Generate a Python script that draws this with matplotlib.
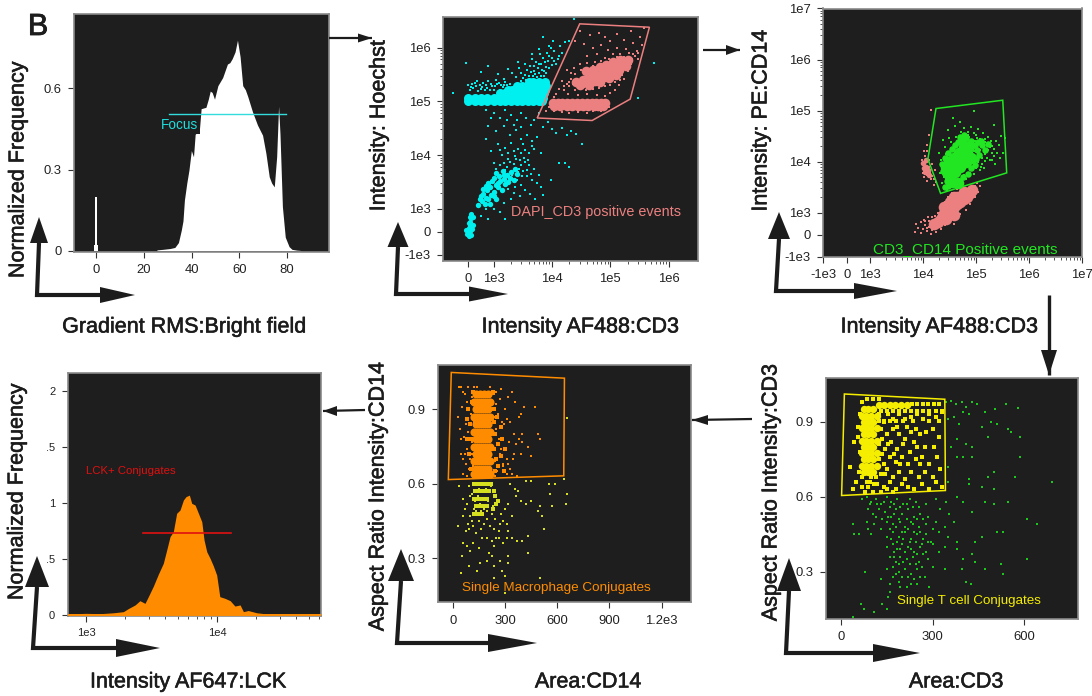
import matplotlib

matplotlib.use("Agg")
from matplotlib import pyplot as plt
from matplotlib import patheffects
from matplotlib.patches import Polygon
from matplotlib.ticker import NullFormatter

plt.rcParams["font.family"] = ["Liberation Sans", "DejaVu Sans"]

PANEL_BG = "#1e1e1e"
SPINE = "#8a8a8a"
TICK = "#333333"
INK = "#1c1c1c"
CYAN = "#00f0f0"
SALMON = "#ec8080"
GREEN = "#22e622"
DARK_GREEN = "#1bc81b"
YELLOW = "#f5ee00"
OLIVE = "#d6e020"
ORANGE = "#ff8c00"
RED = "#e01010"

# gradient rms histogram (top left)
rms_spike_x = [-1.0, -0.4, 0.4, 1.0]
rms_spike_y = [0.02, 0.197, 0.02, 0.0]
rms_x = [25.5, 28, 31, 33, 34.5, 35.7, 36.4, 37, 38, 38.9, 39.9, 40.8, 41.5, 43.3, 44, 46, 47, 47.8, 48.6,
         49.6, 51, 53, 54, 55, 56, 57, 58.2, 59.2, 60.3, 61.4, 62.5, 63.5, 65.5, 67.6, 69.7, 71.1, 72.5,
         73.5, 74.6, 75.6, 76.4, 77, 78, 79.2, 80.8, 82, 84, 85.5, 86]
rms_y = [0.003, 0.005, 0.008, 0.012, 0.03, 0.076, 0.11, 0.187, 0.25, 0.298, 0.37, 0.347, 0.43, 0.45, 0.525,
         0.53, 0.56, 0.59, 0.585, 0.56, 0.61, 0.64, 0.665, 0.69, 0.695, 0.71, 0.735, 0.778, 0.717, 0.61,
         0.595, 0.57, 0.513, 0.464, 0.427, 0.36, 0.273, 0.25, 0.236, 0.347, 0.534, 0.43, 0.163, 0.05,
         0.015, 0.005, 0.002, 0.001, 0.0]
focus_x = [30.6, 79.5]
focus_y = [0.505, 0.505]

# lck histogram (bottom left)
lck_x = [725, 1000, 1280, 1620, 1930, 2100, 2370, 2580, 2820, 2990, 3270, 3570, 3890, 4130, 4380, 4640, 4920,
         5220, 5540, 5800, 6150, 6410, 6800, 7210, 7650, 7960, 8350, 8850, 9380, 9940, 10500, 11500, 12600,
         13700, 15000, 15900, 17300, 20100, 23900, 62500]
lck_y = [0.01, 0.015, 0.012, 0.02, 0.03, 0.057, 0.09, 0.128, 0.104, 0.164, 0.259, 0.366, 0.461, 0.58, 0.70,
         0.744, 0.908, 0.9375, 1.027, 1.057, 1.07, 0.997, 0.982, 0.908, 0.833, 0.67, 0.565, 0.506, 0.4375,
         0.357, 0.164, 0.149, 0.128, 0.08, 0.09, 0.03, 0.04, 0.02, 0.01, 0.003]
lck_gate_x = [2700, 12800]
lck_gate_y = [0.729, 0.729]

# hoechst vs cd3
hoechst_gate = [(5.6e3, 4.9e4), (3e4, 2.76e6), (4.7e5, 2.39e6), (2.2e5, 1.1e5), (4.9e4, 4.4e4)]
cyan_core = [(x, 1.0e5) for x in (0, 250, 500, 750, 1000, 1300, 1600, 2000, 2500, 3100, 3900, 4800, 6000, 6800)] + \
    [(x, 1.17e5) for x in (0, 250, 500, 750, 1000, 1300, 1600, 2000, 2500, 3100, 3900, 4800, 6000, 7100)] + \
    [(x, 1.4e5) for x in (1300, 1600, 2000, 2500, 3100, 3900, 4800, 6000, 7400)] + \
    [(x, 1.65e5) for x in (1800, 2100, 2500, 3100, 3900, 4800, 6000, 7600)] + \
    [(x, 1.95e5) for x in (2500, 3100, 3900, 4800, 6000, 7800)] + \
    [(x, 2.3e5) for x in (4000, 4800, 6000, 7600)]
cyan_mid = [(400, 1200), (550, 1400), (700, 1600), (600, 1900), (800, 1500), (900, 1800), (750, 2200), (500, 1700),
            (850, 2600), (1000, 2100), (700, 2700), (1100, 2800), (1300, 3300), (950, 3300), (1200, 2500),
            (1500, 3600), (1250, 4000), (1700, 4200), (1450, 5000), (2000, 4800), (2300, 5600), (1800, 3100),
            (1400, 2200), (1100, 1500), (650, 1250), (450, 1500), (850, 1250), (1000, 1700), (600, 2300), (800, 3000),
            (1000, 3800), (1200, 3000), (1600, 2900), (1900, 3800), (2200, 3500), (2500, 4400), (1500, 4300), (1100, 4700)]
cyan_low = [(0, 0), (-60, -100), (50, 50), (100, -120), (30, 150), (80, 300), (60, 450), (120, 600), (100, 780),
            (20, -200), (-80, 60), (130, 120), (180, 300), (40, 380), (170, 640), (70, 650)]
cyan_stray = [(1200, 3.2e5), (1500, 2.6e5), (1800, 4e5), (2100, 3.4e5), (2400, 2.8e5), (2700, 4.2e5), (3000, 3.3e5),
              (3400, 5e5), (3800, 3.8e5), (4200, 4.6e5), (4600, 6.2e5), (5000, 3.7e5), (5400, 5.4e5), (5800, 4.2e5),
              (6200, 7.5e5), (6600, 5e5), (7000, 6.4e5), (7400, 3.6e5), (7800, 4.4e5), (8200, 8e5), (8600, 5.6e5),
              (9000, 4.2e5), (9500, 1e6), (10000, 6.5e5), (11000, 8.5e5), (12000, 5e5), (13000, 7e5), (14000, 1.05e6),
              (15000, 8e5), (17000, 1.25e6), (7000, 1.55e6), (20000, 1.35e6), (9000, 1.05e6), (10500, 1.3e6),
              (6000, 9.5e5), (4500, 7.5e5), (2600, 5.5e5), (800, 4.5e5), (500, 3.5e5), (-100, 5.2e5), (-600, 1.45e5),
              (24000, 3.4e6), (5.7e5, 5.1e5), (3e5, 1.15e5),
              (3200, 2.7e5), (3500, 3.1e5), (4000, 3e5), (4400, 3.5e5), (4800, 2.9e5), (5200, 3.2e5), (5600, 2.8e5),
              (6000, 3.4e5), (6400, 3e5), (6800, 3.8e5), (7200, 2.9e5), (5000, 4.5e5), (6000, 5e5), (7500, 5.5e5),
              (8000, 3.4e5), (8800, 7e5), (10000, 4.8e5), (11000, 5.6e5), (12500, 6.2e5), (3000, 2.4e5), (3600, 2.5e5),
              (0, 2e5), (150, 2.1e5), (300, 1.9e5), (450, 2.05e5), (600, 2.2e5), (750, 1.8e5), (900, 2.1e5),
              (1050, 1.9e5), (1250, 2.2e5), (1450, 1.85e5), (200, 1.75e5), (500, 1.7e5), (800, 2.4e5), (1100, 2.5e5),
              (350, 2.35e5), (1000, 1.6e5), (1600, 2.3e5), (1300, 1.65e5), (50, 1.6e5), (100, 1.85e5), (250, 2.2e5),
              (400, 1.55e5), (550, 1.85e5), (700, 2e5), (850, 1.65e5), (950, 1.95e5), (1150, 2.1e5), (1350, 2e5),
              (650, 1.6e5), (1500, 2.05e5), (1700, 2e5), (1900, 2.1e5),
              (700, 7e4), (1000, 6e4), (1300, 5e4), (1600, 7e4), (2000, 5.5e4), (2500, 4.4e4), (3000, 6e4), (3600, 5e4),
              (4300, 3.6e4), (5000, 4.5e4), (6000, 6e4), (7000, 3.4e4), (8500, 4.2e4), (10000, 3e4), (12000, 2.6e4),
              (15000, 3.2e4), (18000, 2.4e4), (21000, 2.8e4), (26000, 2.5e4), (33000, 1.6e4), (800, 3.5e4), (1100, 2.8e4),
              (1500, 3.5e4), (1900, 2.4e4), (2400, 2.9e4), (3000, 2e4), (3700, 2.4e4), (4500, 1.8e4), (5500, 2.2e4),
              (700, 2e4), (1200, 1.6e4), (1600, 1.35e4), (2000, 1.7e4), (2600, 1.3e4), (3200, 1.6e4), (4000, 1.1e4),
              (5000, 1.3e4), (6500, 1.1e4), (1400, 1e4), (1800, 8500), (2300, 9500), (2800, 8000), (3400, 7500),
              (1000, 7000), (1300, 6500), (1700, 6000), (2200, 6800), (2700, 5500), (3200, 5000), (4000, 6500),
              (3700, 4000), (4500, 3500), (5500, 3000), (6500, 2600), (2500, 3500), (3000, 2800), (3400, 2200),
              (2200, 2000), (2800, 1700), (4200, 1900), (5200, 1500), (7000, 1800), (9500, 3500), (13000, 7000),
              (17000, 7000), (20000, 6000), (700, 1000), (1000, 1000), (1300, 850), (1600, 550), (800, 550), (500, 700),
              (1500, 7200), (1900, 7600), (2400, 8300), (2900, 6500), (3300, 9000), (3900, 8000), (1100, 5500), (1600, 5300),
              (2100, 4200), (2600, 4800), (3100, 4000), (1800, 2300), (2000, 1500), (1500, 1300), (2300, 2600), (3800, 5300),
              (4400, 4500), (5000, 5600), (6000, 4200), (900, 1.2e4), (1300, 1.25e4), (1800, 1.1e4), (2200, 1.2e4),
              (2900, 1.1e4), (3500, 1.25e4), (4500, 1.45e4), (900, 5e4), (1700, 4.4e4), (2200, 3.7e4), (2900, 3.3e4)]
salmon_core = [(x, 9.4e4) for x in (1.05e4, 1.25e4, 1.5e4, 1.8e4, 2.2e4, 2.7e4, 3.3e4, 4e4, 4.8e4, 5.8e4, 7e4, 8e4)] + \
    [(x, 8.1e4) for x in (1.1e4, 1.4e4, 1.8e4, 2.2e4, 2.8e4, 3.4e4, 4.2e4, 5.2e4, 6.2e4, 7.4e4)] + \
    [(2.6e4, 2.3e5), (3.4e4, 2.5e5), (4.4e4, 2.8e5), (5.75e4, 3.1e5), (7.5e4, 3.4e5), (9.7e4, 3.8e5), (1.27e5, 4.4e5),
     (1.65e5, 5e5), (3.9e4, 3.6e5), (5e4, 3.8e5), (6.6e4, 4.4e5), (8.5e4, 4.7e5), (1.1e5, 5.5e5), (3e4, 2e5),
     (4.4e4, 2e5), (6.6e4, 2.3e5), (9.7e4, 2.7e5), (1.27e5, 3.1e5), (5.5e4, 2.4e5), (7.7e4, 2.8e5), (1.1e5, 3.4e5),
     (1.4e5, 3.8e5), (1.85e5, 4.6e5), (2e5, 5.8e5), (1.5e5, 5.8e5)]
salmon_stray = [(3e4, 2e6), (4.5e4, 1.7e6), (6.5e4, 1.9e6), (8e4, 1.6e6), (1e5, 1.3e6), (1.3e5, 1.8e6), (1.7e5, 1.4e6),
                (2.3e5, 2e6), (3.2e5, 1.6e6), (3.8e5, 2.3e6), (2.5e5, 1.2e6), (1.9e5, 9.5e5), (1.3e5, 1e6), (9e4, 9e5),
                (7e4, 1.1e6), (5e4, 1e6), (3.5e4, 1.15e6), (2.5e4, 1.3e6), (3e5, 8e5), (3.5e5, 1.1e6), (2.5e5, 7.5e5),
                (3e5, 6e5), (4e4, 7e5), (6e4, 7.5e5), (8e4, 6.5e5), (1.1e5, 7.5e5), (1.5e5, 7.5e5), (2e5, 6.5e5),
                (3e4, 5e5), (2.4e4, 4.2e5), (4e4, 5.2e5), (5.5e4, 5.5e5), (2.1e4, 3.3e5), (1.8e4, 3.8e5), (1.5e4, 2.4e5),
                (1.8e4, 2.1e5), (2.1e4, 2.6e5), (1.3e4, 1.7e5), (1.6e4, 1.6e5), (2e4, 1.9e5), (2.5e4, 1.65e5), (3e4, 1.7e5),
                (3.8e4, 1.6e5), (5e4, 1.7e5), (6.5e4, 1.75e5), (8e4, 1.9e5), (1e5, 2e5), (1.4e5, 2e5), (1.7e5, 2.6e5),
                (1.2e5, 1.65e5), (1.1e4, 1.2e5), (9e3, 8e4), (1.1e4, 6.5e4), (1.5e4, 6.2e4), (2e4, 6e4), (2.8e4, 6.3e4),
                (4e4, 6e4), (5e4, 6.5e4), (7e4, 6.5e4), (8e3, 6.5e4), (1.2e4, 1.35e5), (1.9e4, 1.35e5), (2.8e4, 1.3e5),
                (4e4, 1.35e5), (6e4, 1.3e5), (8e4, 1.25e5), (1e5, 1.4e5), (9.5e4, 8e4), (8.5e4, 1e5),
                (2.3e5, 5e5), (2.7e5, 7e5), (2.4e5, 6e5), (2.9e5, 8.5e5), (2.1e5, 7.8e5), (1.7e5, 6.6e5), (1.3e5, 6.6e5),
                (9.5e4, 6e5), (7e4, 5.6e5), (5e4, 4.6e5), (3.2e4, 3.8e5), (2.5e4, 3.2e5), (2e4, 2.3e5), (1.6e5, 3.1e5),
                (2e5, 3.6e5), (1.5e5, 2.5e5), (1.2e5, 2.3e5), (1.6e4, 1.9e5), (2.3e4, 2.1e5), (3.5e4, 1.85e5), (5e4, 1.9e5)]

# pe cd14 vs cd3
pe_gate = [(1.76e4, 1.1e5), (3.2e5, 1.6e5), (3.8e5, 6.05e3), (2.15e4, 2.4e3), (1.24e4, 1.13e4)]
pe_salmon_core = [(1.6e4, 470), (2.15e4, 730), (2.9e4, 950), (3.85e4, 1320), (5.1e4, 1650), (6.9e4, 2060), (8.5e4, 2770),
                  (2.5e4, 1320), (3.3e4, 1650), (4.45e4, 2060), (5.9e4, 2570), (3.85e4, 880), (2.7e4, 730),
                  (1.9e4, 600), (2.4e4, 900), (3.3e4, 1150), (4.4e4, 1500), (5.9e4, 1900), (7.6e4, 2400), (3.8e4, 2000)]
pe_salmon_stray = [(7e3, 100), (8e3, 300), (9e3, 80), (1e4, 250), (1.1e4, 450), (1.2e4, 150), (1.3e4, 350), (1.4e4, 50),
                   (1.5e4, 200), (7.5e3, 500), (9e3, 560), (1.05e4, 680), (1.25e4, 800), (1.8e4, 120), (2.2e4, 280),
                   (2.6e4, 430), (1.9e4, 1000), (2.1e4, 1250), (2.6e4, 1650), (3e4, 2000), (3.6e4, 2400), (4.4e4, 2900),
                   (7.6e4, 1500), (9.5e4, 2000), (1.1e5, 2600), (1.2e5, 3300), (9.5e4, 3400), (1.05e5, 3800), (6.5e4, 1150),
                   (5e4, 950), (3.8e4, 500),
                   (9.5e3, 1.1e4), (1e4, 9e3), (1.1e4, 1.3e4), (1.15e4, 7000), (1e4, 6000), (1.2e4, 5500), (1.3e4, 8000),
                   (1.35e4, 6000), (1.05e4, 1.6e4), (1.2e4, 2.1e4), (1.3e4, 3.3e4), (1.2e4, 1.6e4), (1.4e4, 4500),
                   (1.6e4, 3500), (1.5e4, 5200), (1.7e4, 7000), (1.2e4, 4200), (1.4e4, 1.05e5), (1.45e4, 9000),
                   (1.1e4, 8000), (1.3e4, 1.1e4), (1.05e4, 5000), (1.6e4, 4600), (1.8e4, 4000),
                   (1.2e4, 300), (1.4e4, 500), (1.6e4, 350), (1.1e4, 620), (1.3e4, 620), (1.5e4, 800), (1.7e4, 850)]
pe_salmon_blob = [(1e4, 9500), (1.15e4, 8000), (1.1e4, 6400), (1.25e4, 7000), (1.05e4, 7500), (1.15e4, 1.1e4), (1.3e4, 5500)]
pe_green_core = [(2.9e4, 6.2e3), (3.6e4, 7.8e3), (4.45e4, 9.7e3), (5.5e4, 1.2e4), (6.9e4, 1.5e4), (3.1e4, 9.7e3), (3.85e4, 1.2e4),
                 (4.8e4, 1.5e4), (5.9e4, 1.9e4), (3.3e4, 5e3), (4.1e4, 6.2e3), (5.1e4, 7.8e3), (6.4e4, 9.7e3), (7.9e4, 1.2e4),
                 (3.6e4, 4e3), (2.7e4, 7.8e3), (7.4e4, 2e4), (4.5e4, 3.8e3)]
pe_green_mid = [(2.4e4, 6.5e3), (2.3e4, 9e3), (2.6e4, 1.2e4), (3e4, 1.45e4), (3.5e4, 1.75e4), (4e4, 2.1e4), (4.6e4, 2.4e4),
                (5.5e4, 2.7e4), (6.5e4, 2.9e4), (8e4, 2.6e4), (9.5e4, 2.1e4), (1.05e5, 1.7e4), (1.15e5, 1.35e4), (1e5, 1.15e4),
                (9.5e4, 8.5e3), (8e4, 7.5e3), (7e4, 5.8e3), (5.7e4, 5e3), (2.8e4, 4.2e3), (2.6e4, 3.2e3), (3e4, 3.3e3),
                (1.3e5, 2.1e4), (1.5e5, 1.7e4), (1.25e5, 2.6e4), (1.1e5, 2.4e4), (6e4, 3.3e4), (5e4, 3e4), (1.7e5, 2.2e4)]
pe_green_stray = [(2e4, 1.5e4), (2.4e4, 2.7e4), (2.6e4, 1.9e4), (2.7e4, 1.4e4), (2.2e4, 1.1e4), (2.4e4, 8e3), (2.1e4, 6e3),
                  (2.5e4, 5e3), (2.3e4, 3.8e3), (2.7e4, 3.3e3), (3e4, 4e3), (3.1e4, 2.9e4), (3.4e4, 2.4e4), (3.5e4, 1.8e4),
                  (3.2e4, 1.5e4), (3e4, 4.1e4), (4e4, 5.1e4), (5e4, 6e4), (3.7e4, 7.3e4), (9e4, 1e5), (6e4, 4.5e4), (5.2e4, 3.8e4),
                  (7e4, 3.8e4), (8e4, 4.7e4), (4.2e4, 3e4), (4.7e4, 2.6e4), (5.5e4, 3e4), (6.5e4, 2.6e4), (7.5e4, 3e4),
                  (8.5e4, 2.4e4), (1e5, 3.3e4), (1.1e5, 4.3e4), (1.2e5, 2.8e4), (1.35e5, 3.6e4), (1.5e5, 2.4e4), (1.7e5, 3e4),
                  (2.2e5, 5.2e4), (2.7e5, 2.1e4), (3e5, 3.2e4), (3.5e5, 2.9e4), (3.3e5, 1.5e4), (2.5e5, 1.5e4), (2e5, 2e4),
                  (1.7e5, 1.7e4), (1.4e5, 2e4), (1.2e5, 1.7e4), (1e5, 1.9e4), (9e4, 1.6e4), (1.1e5, 1.3e4), (1.3e5, 1.2e4),
                  (1.5e5, 1.4e4), (1.8e5, 1.1e4), (2.3e5, 9e3), (1.3e5, 9e3), (1.1e5, 1e4), (9.5e4, 1e4), (1e5, 7.5e3),
                  (1.2e5, 6.8e3), (8.5e4, 7e3), (9e4, 5.7e3), (7.5e4, 5.3e3), (6e4, 5.5e3), (5.5e4, 4.5e3), (4.7e4, 4e3),
                  (6.5e4, 4.6e3), (4e4, 3.5e3), (3.4e4, 3.2e3), (2.9e4, 2.8e3), (8e4, 2.2e4), (6.2e4, 2.4e4), (4.5e4, 2.2e4),
                  (9.5e4, 2.6e4), (2.8e5, 1.2e4), (2.2e5, 1.3e4), (1.65e5, 2.1e4), (1.9e5, 2.6e4), (1.25e5, 2.3e4),
                  (1.4e5, 1.6e4), (1.6e5, 1.2e4), (2e5, 1.5e4), (2.2e5, 1.8e4), (2.4e5, 2.5e4), (2e5, 1.1e4), (1.5e5, 1.05e4),
                  (1.25e5, 7.8e3), (1.4e5, 7.5e3), (7e4, 3.3e4), (9e4, 3.7e4), (1.05e5, 2.9e4), (1.45e5, 2.8e4), (1.8e5, 1.9e4)]

# aspect ratio vs area cd14
macro_gate = [(-8, 1.048), (642, 1.025), (638, 0.632), (-25, 0.617)]
macro_core = [(x, y) for y in (0.96, 0.90, 0.84, 0.78, 0.72, 0.66) for x in (135, 158, 181, 204)] + \
    [(x, y) for y in (0.93, 0.87, 0.81, 0.75, 0.69, 0.64) for x in (125, 147, 170, 193, 216)]
macro_mid = [(90, 0.90), (100, 0.84), (105, 0.78), (95, 0.72), (105, 0.66), (110, 0.93), (115, 0.97), (85, 0.86), (80, 0.78),
             (235, 0.90), (240, 0.85), (245, 0.80), (240, 0.74), (250, 0.70), (245, 0.65), (255, 0.87), (262, 0.76), (260, 0.67),
             (230, 0.97), (275, 0.83), (275, 0.71), (285, 0.78), (300, 0.74), (295, 0.65)]
macro_stray = [(35, 0.99), (45, 0.99), (30, 0.87), (60, 0.97), (70, 0.96), (55, 0.91), (80, 0.93), (90, 0.99), (75, 0.84),
               (65, 0.79), (85, 0.74), (100, 0.70), (95, 0.66), (60, 0.64), (110, 0.95), (105, 0.88), (45, 0.78), (70, 0.72),
               (90, 0.81), (110, 0.77), (240, 0.96), (250, 0.92), (260, 0.88), (275, 0.98), (285, 0.85), (300, 0.90),
               (320, 0.95), (340, 0.97), (360, 0.93), (380, 0.87), (395, 0.88), (400, 0.80), (430, 0.75), (450, 0.71),
               (250, 0.82), (265, 0.78), (280, 0.74), (295, 0.84), (310, 0.70), (330, 0.66), (350, 0.80), (365, 0.76),
               (380, 0.78), (400, 0.77), (245, 0.69), (255, 0.65), (270, 0.72), (290, 0.68), (310, 0.64), (325, 0.77),
               (345, 0.70), (370, 0.63), (390, 0.72), (490, 0.80), (500, 0.78), (410, 0.91), (250, 0.97), (270, 0.94),
               (290, 0.67), (310, 0.86), (120, 0.99), (140, 0.99), (110, 0.72), (115, 0.67), (120, 0.85), (240, 0.74),
               (235, 0.87), (238, 0.80), (112, 0.92), (245, 0.63), (215, 0.99), (230, 0.96), (475, 0.91), (40, 0.82),
               (50, 0.72), (60, 0.70), (75, 0.68), (80, 0.63), (330, 0.85), (350, 0.72), (320, 0.68), (340, 0.64)]
macro_yellow_mid = [(120, 0.60), (140, 0.60), (160, 0.60), (180, 0.60), (200, 0.60), (220, 0.60), (130, 0.57), (150, 0.57),
                    (170, 0.57), (190, 0.57), (210, 0.57), (120, 0.54), (140, 0.54), (160, 0.54), (180, 0.54), (200, 0.54),
                    (135, 0.51), (155, 0.51), (175, 0.51), (195, 0.51), (125, 0.48), (145, 0.48), (170, 0.48), (250, 0.52),
                    (260, 0.53), (230, 0.50), (235, 0.57), (245, 0.55)]
macro_yellow = [(95, 0.59), (110, 0.56), (120, 0.60), (130, 0.57), (140, 0.60), (150, 0.58), (160, 0.60), (170, 0.57), (180, 0.60),
                (190, 0.58), (200, 0.60), (210, 0.57), (220, 0.59), (130, 0.53), (145, 0.55), (155, 0.52), (165, 0.54),
                (175, 0.51), (190, 0.54), (205, 0.53), (230, 0.51), (250, 0.52), (260, 0.53), (120, 0.50), (135, 0.49),
                (150, 0.48), (165, 0.49), (180, 0.50), (200, 0.49), (225, 0.48), (245, 0.46), (100, 0.47), (90, 0.44),
                (70, 0.50), (60, 0.54), (35, 0.59), (30, 0.43), (75, 0.41), (95, 0.42), (115, 0.43), (135, 0.40), (160, 0.42),
                (180, 0.44), (215, 0.43), (240, 0.42), (270, 0.44), (290, 0.45), (310, 0.44), (340, 0.47), (365, 0.55),
                (375, 0.57), (395, 0.53), (420, 0.52), (450, 0.53), (490, 0.49), (500, 0.51), (525, 0.42), (515, 0.47),
                (560, 0.56), (570, 0.51), (590, 0.60), (555, 0.60), (650, 0.52), (655, 0.56), (655, 0.865), (640, 0.62),
                (450, 0.61), (420, 0.61), (360, 0.58), (330, 0.60), (60, 0.36), (80, 0.35), (100, 0.33), (115, 0.36), (150, 0.34),
                (170, 0.38), (200, 0.38), (225, 0.37), (240, 0.35), (265, 0.38), (290, 0.36), (310, 0.38), (340, 0.38),
                (370, 0.37), (400, 0.37), (430, 0.39), (55, 0.31), (95, 0.27), (155, 0.28), (200, 0.29), (225, 0.31), (240, 0.27),
                (270, 0.29), (320, 0.31), (50, 0.24), (140, 0.25), (240, 0.22), (285, 0.25), (300, 0.23), (500, 0.22),
                (300, 0.16), (430, 0.32), (210, 0.32), (320, 0.28), (280, 0.48), (300, 0.50), (320, 0.52), (100, 0.55),
                (85, 0.52), (110, 0.45), (150, 0.45), (200, 0.46), (265, 0.41), (315, 0.41), (250, 0.38), (60, 0.47)]

# aspect ratio vs area cd3
tcell_gate = [(12, 1.011), (340, 0.99), (342, 0.625), (3, 0.605)]
tcell_core = [(x, y) for y in (0.95, 0.90, 0.85, 0.80, 0.75, 0.70) for x in (75, 90, 106)] + \
    [(x, y) for y in (0.925, 0.875, 0.825, 0.775, 0.725) for x in (68, 83, 98, 118)] + \
    [(x, 0.968) for x in (125, 142, 160, 178, 196, 215)]
tcell_band = [(x, 0.972) for x in (232, 250, 268, 286, 304, 322)] + \
    [(x, 0.945) for x in (130, 150, 170, 190, 210, 230, 250, 270, 290, 310, 330)] + \
    [(x, 0.905) for x in (125, 140, 160, 180, 205, 235, 290, 320)]
tcell_mid = [(125, 0.93), (140, 0.90), (155, 0.93), (170, 0.91), (190, 0.93), (210, 0.91), (230, 0.92), (250, 0.93), (270, 0.91),
             (290, 0.93), (310, 0.92), (330, 0.94), (130, 0.87), (150, 0.85), (170, 0.87), (190, 0.85), (210, 0.83), (230, 0.86),
             (245, 0.87), (260, 0.85), (280, 0.86), (300, 0.87), (320, 0.84), (125, 0.81), (145, 0.79), (165, 0.82), (185, 0.79),
             (205, 0.81), (225, 0.78), (250, 0.80), (275, 0.80), (305, 0.80), (125, 0.75), (140, 0.73), (160, 0.76), (180, 0.74),
             (200, 0.76), (220, 0.73), (245, 0.75), (260, 0.73), (290, 0.73), (315, 0.76), (130, 0.69), (150, 0.71), (170, 0.68),
             (190, 0.70), (210, 0.67), (230, 0.70), (255, 0.68), (275, 0.70), (300, 0.68), (325, 0.71), (85, 0.66), (100, 0.68),
             (120, 0.65), (140, 0.64), (160, 0.66), (180, 0.63), (200, 0.65), (220, 0.64), (240, 0.63), (265, 0.65), (290, 0.63),
             (310, 0.66), (330, 0.64), (70, 0.64), (80, 0.62), (105, 0.62), (130, 0.62), (150, 0.63), (172, 0.62), (60, 0.70),
             (62, 0.78), (58, 0.84), (55, 0.88), (62, 0.93), (68, 0.98), (85, 0.99), (105, 0.99), (125, 0.99), (45, 0.82),
             (32, 0.72), (50, 0.66), (40, 0.63), (135, 0.83), (155, 0.81), (175, 0.77), (195, 0.73), (135, 0.77), (145, 0.69),
             (115, 0.68), (90, 0.64), (70, 0.68), (185, 0.88), (215, 0.88), (240, 0.82), (265, 0.76), (95, 0.66), (110, 0.65)]
tcell_green = [(345, 0.98), (360, 0.985), (375, 0.97), (395, 0.98), (410, 0.96), (430, 0.98), (445, 0.97), (420, 0.93), (400, 0.94),
               (370, 0.92), (350, 0.91), (385, 0.89), (470, 0.94), (505, 0.95), (540, 0.97), (580, 0.955), (490, 0.90), (510, 0.89),
               (555, 0.86), (545, 0.87), (460, 0.88), (480, 0.84), (585, 0.84), (585, 0.76), (380, 0.83), (410, 0.81), (430, 0.80),
               (360, 0.80), (380, 0.76), (400, 0.76), (430, 0.76), (350, 0.72), (500, 0.70), (480, 0.68), (570, 0.68), (350, 0.66),
               (420, 0.65), (420, 0.67), (500, 0.63), (460, 0.64), (690, 0.66), (380, 0.60), (400, 0.58), (430, 0.54), (470, 0.58),
               (500, 0.57), (545, 0.58),
               (70, 0.59), (85, 0.60), (100, 0.58), (115, 0.59), (130, 0.57), (150, 0.60), (165, 0.58), (185, 0.59), (205, 0.57),
               (225, 0.59), (245, 0.58), (280, 0.57), (310, 0.59), (345, 0.58), (90, 0.55), (105, 0.53), (125, 0.55), (145, 0.54),
               (165, 0.52), (180, 0.55), (200, 0.53), (220, 0.55), (240, 0.52), (260, 0.53), (285, 0.52), (325, 0.55), (355, 0.53),
               (85, 0.50), (110, 0.49), (150, 0.50), (170, 0.49), (190, 0.51), (210, 0.48), (230, 0.50), (255, 0.48), (280, 0.49),
               (310, 0.50), (340, 0.48), (370, 0.50), (40, 0.49), (45, 0.45), (60, 0.45), (90, 0.47), (100, 0.45), (130, 0.47),
               (150, 0.44), (170, 0.46), (190, 0.44), (210, 0.46), (230, 0.43), (250, 0.45), (270, 0.43), (295, 0.42), (320, 0.46),
               (350, 0.44), (380, 0.42), (440, 0.42), (460, 0.44), (510, 0.46), (530, 0.46), (640, 0.49), (610, 0.51), (150, 0.40),
               (170, 0.41), (185, 0.39), (200, 0.41), (220, 0.40), (240, 0.38), (260, 0.40), (280, 0.38), (300, 0.41), (320, 0.38),
               (340, 0.40), (380, 0.39), (430, 0.37), (160, 0.36), (180, 0.34), (195, 0.36), (215, 0.35), (235, 0.36), (255, 0.34),
               (285, 0.35), (400, 0.35), (440, 0.34), (525, 0.33), (610, 0.35), (150, 0.31), (170, 0.32), (190, 0.30), (210, 0.31),
               (230, 0.29), (250, 0.31), (275, 0.28), (300, 0.32), (340, 0.31), (395, 0.31), (470, 0.31), (530, 0.29), (80, 0.30),
               (130, 0.27), (160, 0.25), (190, 0.26), (215, 0.24), (250, 0.25), (290, 0.24), (410, 0.26), (425, 0.25), (160, 0.22),
               (155, 0.20), (75, 0.15), (65, 0.17), (110, 0.14), (40, 0.12), (150, 0.15), (135, 0.17),
               (95, 0.57), (120, 0.57), (140, 0.58), (160, 0.56), (175, 0.57), (195, 0.56), (215, 0.57), (235, 0.56), (255, 0.56),
               (115, 0.52), (135, 0.51), (155, 0.52), (175, 0.53), (195, 0.50), (215, 0.51), (235, 0.49), (250, 0.51), (270, 0.51),
               (160, 0.47), (180, 0.48), (200, 0.46), (220, 0.47), (240, 0.46), (260, 0.46), (280, 0.45), (300, 0.47),
               (165, 0.43), (185, 0.42), (205, 0.43), (225, 0.42), (245, 0.42), (265, 0.41), (285, 0.42), (175, 0.38), (195, 0.39),
               (210, 0.38), (230, 0.39), (250, 0.37), (270, 0.37), (175, 0.36), (190, 0.33), (205, 0.34), (225, 0.33), (245, 0.33),
               (265, 0.32), (180, 0.29), (200, 0.28), (220, 0.28), (240, 0.27), (260, 0.28), (170, 0.28), (195, 0.24), (230, 0.25)]

# tick labels
x_ticks_rms = [0, 20, 40, 60, 80]
y_ticks_rms = [0, 0.3, 0.6]
y_labels_rms = ["0", "0.3", "0.6"]
bi_x_ticks = [0, 1e3, 1e4, 1e5, 1e6]
bi_x_labels = ["0", "1e3", "1e4", "1e5", "1e6"]
bi_y_ticks = [-1e3, 0, 1e3, 1e4, 1e5, 1e6]
bi_y_labels = ["-1e3", "0", "1e3", "1e4", "1e5", "1e6"]
pe_ticks = [-1e3, 0, 1e3, 1e4, 1e5, 1e6, 1e7]
pe_labels = ["-1e3", "0", "1e3", "1e4", "1e5", "1e6", "1e7"]
lck_x_ticks = [1e3, 1e4]
lck_x_labels = ["1e3", "1e4"]
lck_y_ticks = [0, 0.5, 1, 1.5, 2]
lck_y_labels = ["0", ".5", "1", ".5", "2"]
macro_x_ticks = [0, 300, 600, 900, 1200]
macro_x_labels = ["0", "300", "600", "900", "1.2e3"]
tcell_x_ticks = [0, 300, 600]
ratio_ticks = [0.3, 0.6, 0.9]


def log_minors(first, last):
    return [m * 10 ** d for d in range(first, last) for m in range(2, 10)]


fig = plt.figure(figsize=(10.92, 6.96), dpi=100)


def panel(left, top, right, bottom, xlim, ylim):
    axis = fig.add_axes([left / 1092, 1 - bottom / 696, (right - left) / 1092, (bottom - top) / 696])
    axis.set_facecolor(PANEL_BG)
    for spine in axis.spines.values():
        spine.set_color(SPINE)
        spine.set_linewidth(1.2)
    axis.tick_params(which="major", length=4, width=0.8, color=TICK, labelsize=9.4, labelcolor="#222222", pad=5)
    axis.tick_params(which="minor", length=2.5, width=0.6, color=TICK)
    axis._wanted = (xlim, ylim)
    return axis


def finish(axis):
    axis.set_xlim(axis._wanted[0])
    axis.set_ylim(axis._wanted[1])


def dots(axis, points, color, size, marker="o", zorder=3):
    xs, ys = zip(*points)
    axis.scatter(xs, ys, s=size, c=color, marker=marker, linewidths=0, zorder=zorder)


def gate(axis, corners, color, lw=1.1):
    axis.add_patch(Polygon(corners, closed=True, fill=False, edgecolor=color, linewidth=lw, zorder=5))


# top left
ax = panel(74, 14, 329, 251.5, (-9.2, 97.5), (-0.003, 0.875))
ax.fill_between(rms_spike_x, rms_spike_y, step="post", color="white", lw=0, zorder=2)
ax.fill_between(rms_x, rms_y, color="white", lw=0, zorder=2)
ax.plot(focus_x, focus_y, color="#35dcdc", lw=1, zorder=4)
ax.text(35, 0.464, "Focus", color="#20dede", fontsize=9.8, ha="center", va="center", zorder=5,
        bbox={"facecolor": PANEL_BG, "edgecolor": "none", "pad": 1})
ax.set_xticks(x_ticks_rms)
ax.set_yticks(y_ticks_rms, y_labels_rms)
finish(ax)

# top middle
ax = panel(443, 17, 698, 261, (-1e3, 3.2e6), (-1.3e3, 3.7e6))
ax.set_xscale("symlog", linthresh=1e3, linscale=0.39)
ax.set_yscale("symlog", linthresh=1e3, linscale=0.385)
dots(ax, cyan_stray, CYAN, 3, "s")
dots(ax, cyan_mid, CYAN, 15)
dots(ax, cyan_low, CYAN, 14)
dots(ax, cyan_core, CYAN, 42)
dots(ax, salmon_stray, SALMON, 3, "s", 4)
dots(ax, salmon_core, SALMON, 48, "o", 4)
gate(ax, hoechst_gate, SALMON)
ax.text(2e3, 860, "DAPI_CD3 positive events", color=SALMON, fontsize=10.4, va="center")
ax.set_xticks(bi_x_ticks, bi_x_labels)
ax.set_yticks(bi_y_ticks, bi_y_labels)
ax.set_xticks(log_minors(3, 6), minor=True)
ax.set_yticks(log_minors(3, 6), minor=True)
ax.xaxis.set_minor_formatter(NullFormatter())
ax.yaxis.set_minor_formatter(NullFormatter())
finish(ax)

# top right
ax = panel(823.3, 8.5, 1082, 256.5, (-1e3, 1e7), (-1e3, 1e7))
ax.set_xscale("symlog", linthresh=1e3, linscale=0.396)
ax.set_yscale("symlog", linthresh=1e3, linscale=0.385)
dots(ax, pe_salmon_stray, SALMON, 4, "s")
dots(ax, pe_salmon_blob, SALMON, 16)
dots(ax, pe_salmon_core, SALMON, 70)
dots(ax, pe_green_stray, GREEN, 3, "s", 4)
dots(ax, pe_green_mid, GREEN, 22, "o", 4)
dots(ax, pe_green_core, GREEN, 70, "o", 4)
gate(ax, pe_gate, GREEN)
ax.text(1160, -677, "CD3_CD14 Positive events", color=GREEN, fontsize=11, va="center")
ax.set_xticks(pe_ticks, pe_labels)
ax.set_yticks(pe_ticks, pe_labels)
ax.set_xticks(log_minors(3, 7), minor=True)
ax.set_yticks(log_minors(3, 7), minor=True)
ax.xaxis.set_minor_formatter(NullFormatter())
ax.yaxis.set_minor_formatter(NullFormatter())
finish(ax)

# bottom left
ax = panel(67.7, 372.7, 321.3, 615.7, (725, 62500), (-0.006, 2.163))
ax.set_xscale("log")
ax.fill_between(lck_x, lck_y, color=ORANGE, lw=0, zorder=2)
ax.axhline(0, color=ORANGE, lw=1.4, zorder=3)
ax.plot(lck_gate_x, lck_gate_y, color=RED, lw=1.2, zorder=4)
ax.text(1000, 1.29, "LCK+ Conjugates", color=RED, fontsize=8.2, va="center")
ax.set_xticks(lck_x_ticks, lck_x_labels)
ax.set_yticks(lck_y_ticks, lck_y_labels)
ax.set_xticks([t for t in log_minors(3, 5) if 725 < t < 62500], minor=True)
ax.xaxis.set_minor_formatter(NullFormatter())
ax.tick_params(labelsize=8, axis="both")
finish(ax)

# bottom middle
ax = panel(437.7, 365, 691, 602.3, (-86, 1369), (0.123, 1.078))
dots(ax, macro_yellow, OLIVE, 3.2, "s")
dots(ax, macro_yellow_mid, OLIVE, 7, "s")
dots(ax, macro_stray, ORANGE, 3.2, "s", 4)
dots(ax, macro_mid, ORANGE, 8, "s", 4)
dots(ax, macro_core, ORANGE, 34, "o", 4)
gate(ax, macro_gate, ORANGE)
ax.text(52, 0.18, "Single Macrophage Conjugates", color=ORANGE, fontsize=9.7, va="center")
ax.set_xticks(macro_x_ticks, macro_x_labels)
ax.set_yticks(ratio_ticks)
finish(ax)

# bottom right
ax = panel(826, 378, 1077.7, 619, (-48, 774), (0.111, 1.075))
dots(ax, tcell_green, DARK_GREEN, 3.2, "s")
dots(ax, tcell_mid, YELLOW, 5, "s", 4)
dots(ax, tcell_band, YELLOW, 9, "s", 4)
dots(ax, tcell_core, YELLOW, 28, "o", 4)
gate(ax, tcell_gate, YELLOW)
ax.text(183, 0.182, "Single T cell Conjugates", color=YELLOW, fontsize=9.6, va="center")
ax.set_xticks(tcell_x_ticks)
ax.set_yticks(ratio_ticks)
finish(ax)

# arrows and outer labels sit on a full figure overlay in pixel units
over = fig.add_axes([0, 0, 1, 1], zorder=10)
over.set_xlim(0, 1092)
over.set_ylim(696, 0)
over.axis("off")
over.patch.set_alpha(0)


def l_arrow(cx, cy, up_x, up_tip, up_base, up_half, right_tip, right_base, right_half):
    over.plot([up_x, cx, right_base], [up_base, cy, cy], color=INK, lw=3, solid_joinstyle="miter", solid_capstyle="butt")
    over.add_patch(Polygon([(up_x - up_half, up_base), (up_x + up_half, up_base), (up_x, up_tip)], color=INK, lw=0))
    over.add_patch(Polygon([(right_base, cy - right_half), (right_base, cy + right_half), (right_tip, cy)], color=INK, lw=0))


def thin_arrow(x0, y0, x1, y1, base, half, lw=1.6):
    over.plot([x0, x1], [y0, y1], color=INK, lw=lw, solid_capstyle="butt")
    if x0 == x1:
        over.add_patch(Polygon([(x1 - half, base), (x1 + half, base), (x1, y1)], color=INK, lw=0))
    else:
        over.add_patch(Polygon([(base, y1 - half), (base, y1 + half), (x1, y1)], color=INK, lw=0))


l_arrow(37, 295, 39, 217, 243, 9, 135, 100, 8)
l_arrow(396, 294, 398, 222, 247, 10.5, 508, 469, 7.5)
l_arrow(776, 291, 779, 212, 239, 11, 897, 854, 8)
l_arrow(33, 648, 37, 556, 587, 12, 160, 116, 9)
l_arrow(397, 643, 401, 549, 581, 13, 537, 488, 9)
l_arrow(786, 653, 789, 558, 591, 12, 920, 873, 9)

thin_arrow(329, 38, 372, 38, 358, 4.5)
thin_arrow(703, 50, 740, 50, 726, 5)
thin_arrow(1049, 295, 1049, 375, 350, 8, 2.4)
thin_arrow(752, 419, 692, 420, 708, 5)
thin_arrow(365, 410, 323, 411, 337, 5)

over.text(38, 27, "B", fontsize=22, color=INK, ha="center", va="center",
          path_effects=[patheffects.withStroke(linewidth=0.6, foreground=INK)])


def outer_label(x, y, text, rotation=0):
    over.text(x, y, text, fontsize=15.5, color=INK, ha="center", va="center", rotation=rotation,
              path_effects=[patheffects.withStroke(linewidth=0.4, foreground=INK)])


outer_label(18, 170, "Normalized Frequency", 90)
outer_label(184, 327, "Gradient RMS:Bright field")
outer_label(379, 126, "Intensity: Hoechst", 90)
outer_label(580, 327, "Intensity AF488:CD3")
outer_label(761, 121, "Intensity: PE:CD14", 90)
outer_label(939, 327, "Intensity AF488:CD3")
outer_label(17, 492, "Normalized Frequency", 90)
outer_label(188, 682, "Intensity AF647:LCK")
outer_label(378, 497, "Aspect Ratio Intensity:CD14", 90)
outer_label(588, 682, "Area:CD14")
outer_label(771, 493, "Aspect Ratio Intensity:CD3", 90)
outer_label(956, 682, "Area:CD3")

fig.savefig("out.png", dpi=100)
